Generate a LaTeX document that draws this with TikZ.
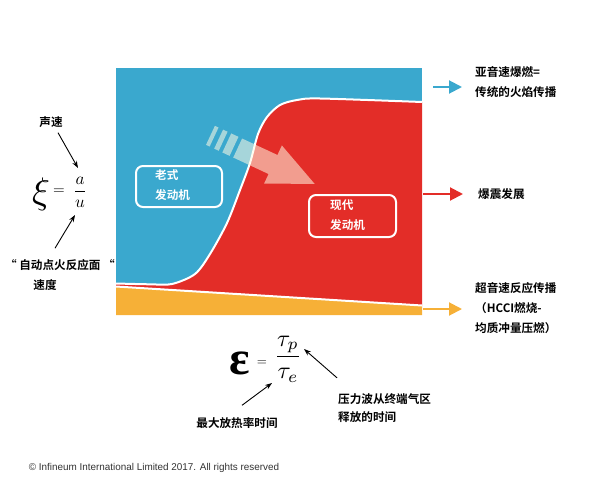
\documentclass[tikz,border=0pt]{standalone}
\usepackage{fontspec}
\setmainfont{Liberation Sans}
\newfontfamily\cjk{Noto Sans CJK SC}[BoldFont={Noto Sans CJK SC Bold}]
\newfontfamily\tserif{Liberation Serif}
\usetikzlibrary{arrows.meta}
\definecolor{iblue}{RGB}{58,168,206}
\definecolor{ired}{RGB}{227,45,40}
\definecolor{iorange}{RGB}{246,176,55}
\definecolor{ghostc}{RGB}{255,250,228}
\begin{document}
\begin{tikzpicture}[x=1pt,y=-1pt,
  lbl/.style={font={\cjk\bfseries\fontsize{11.6}{20}\selectfont}, align=left, inner sep=0pt},
  wlbl/.style={lbl, text=white},
  ptr/.style={line width=0.9pt, -{Stealth[length=7pt,width=5pt]}},
  rarr/.style={line width=2pt, -{Triangle[length=13pt,width=13pt]}},
  box/.style={draw=white, line width=2pt, rounded corners=7pt, minimum width=86pt, minimum height=41pt, inner sep=0pt},
  sepline/.style={white, line width=2pt},
  ghost/.style={ghostc, opacity=0.55}]
\useasboundingbox (0,0) rectangle (599,495);
% chart background
\fill[iblue] (116,68) rectangle (422,315);
\fill[ired] plot[smooth] coordinates {(116,283.5) (150,284.3) (172,284) (195,274) (210,254) (227,223) (240,190) (250,163) (258,134) (267,117) (280,105) (297,100) (320,98.5) (422,102)} -- (422,305.5) -- (116,286.5) -- cycle;
\fill[iorange] (116,286.5) -- (422,305.5) -- (422,315) -- (116,315) -- cycle;
\draw[sepline] plot[smooth] coordinates {(116,283.5) (150,284.3) (172,284) (195,274) (210,254) (227,223) (240,190) (250,163) (258,134) (267,117) (280,105) (297,100) (320,98.5) (422,102)};
\draw[sepline] (116,286.5) -- (422,305.5);
% translucent arrow
\begin{scope}[shift={(273,164.5)}, rotate=-25]
  \fill[ghost] (-39,-10.5) -- (0,-10.5) -- (0,-21) -- (46,0) -- (0,21) -- (0,10.5) -- (-39,10.5) -- cycle;
  \fill[ghost] (-51,-10.5) rectangle (-43,10.5);
  \fill[ghost] (-60,-10.5) rectangle (-55,10.5);
  \fill[ghost] (-69,-10.5) rectangle (-65,10.5);
\end{scope}
% boxes
\node[box] (oldbox) at (179,186.5) {};
\node[wlbl, anchor=west] (oldtxt) at (155,185) {老式\\发动机};
\node[box, minimum width=87pt, minimum height=42pt] (newbox) at (352.5,216) {};
\node[wlbl, anchor=west] (newtxt) at (330,215) {现代\\发动机};
% right arrows and labels
\coordinate (b1) at (433,87); \coordinate (b2) at (462,87);
\coordinate (r1) at (423,194); \coordinate (r2) at (463,194);
\coordinate (o1) at (423,309); \coordinate (o2) at (462,309);
\draw[rarr, iblue] (b1) -- (b2);
\draw[rarr, ired] (r1) -- (r2);
\draw[rarr, iorange] (o1) -- (o2);
\node[lbl, anchor=west] (lab1) at (475,82) {亚音速爆燃=\\传统的火焰传播};
\node[lbl, anchor=west] (lab2) at (478,194) {爆震发展};
\node[lbl, anchor=west] (lab3) at (475,308) {超音速反应传播\\（HCCI燃烧-\\均质冲量压燃）};
% left formula
\node[scale=3.7] (xi) at (41,194) {$\xi$};
\node[scale=1.5] (eq1) at (59,192) {$=$};
\node[scale=1.7] (frac1) at (80,192) {$\displaystyle\frac{a}{u}$};
\node[lbl] (ss) at (51,122) {声速};
\node[lbl] (zd) at (60,265) {“ 自动点火反应面 “};
\node[lbl] (sd) at (45,285) {速度};
\coordinate (ssEnd) at (78,168);
\coordinate (zdEnd) at (75,215);
\draw[ptr] ([shift={(7,5)}]ss.south) -- (ssEnd);
\draw[ptr] ([shift={(-5,-11)}]zd.north) -- (zdEnd);
% bottom formula
\node[font={\tserif\bfseries\fontsize{48}{48}\selectfont}, inner sep=0pt] (eps) at (240,363) {ε};
\node[scale=1.3] (eq2) at (262,363) {$=$};
\node[scale=2.4] (frac2) at (288,359) {$\displaystyle\frac{\tau_p}{\tau_e}$};
\node[lbl] (zr) at (237,423) {最大放热率时间};
\node[lbl, anchor=west, font={\cjk\bfseries\fontsize{11.6}{18}\selectfont}] (yl) at (338,408.5) {压力波从终端气区\\释放的时间};
\coordinate (zrEnd) at (272,383);
\coordinate (ylEnd) at (304,349);
\draw[ptr] ([shift={(5,-12)}]zr.north) -- (zrEnd);
\draw[ptr] ([shift={(-1,-16)}]yl.north west) -- (ylEnd);
% copyright
\node[font=\fontsize{9.9}{11}\selectfont, text=black!80, inner sep=0pt] (copy) at (154,468) {© Infineum International Limited 2017. All rights reserved};
\end{tikzpicture}
\end{document}
